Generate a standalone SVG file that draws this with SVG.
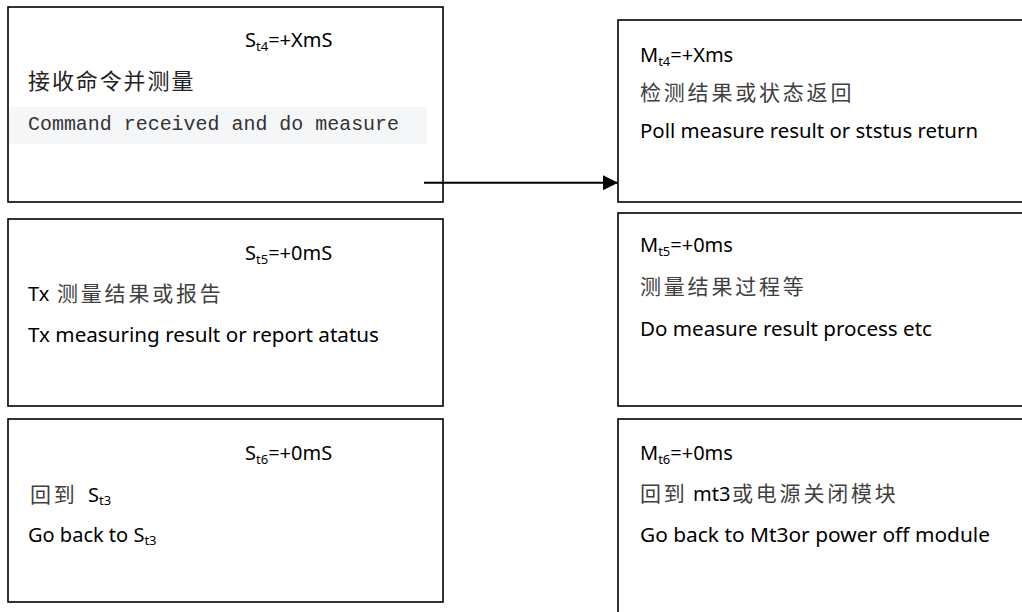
<svg xmlns="http://www.w3.org/2000/svg" width="1022" height="612" viewBox="0 0 1022 612">
<style>
.box{fill:#fff;stroke:#000;stroke-width:1.6}
.en{font-family:"Noto Sans","Open Sans",sans-serif;font-size:20px;fill:#000}
.sub{font-size:13px}
.zh{font-family:"Noto Sans CJK SC","Noto Sans",sans-serif;font-size:21px;fill:#404040;letter-spacing:2.8px}
.zh1{font-family:"Noto Sans CJK SC",sans-serif;font-size:22px;fill:#222;letter-spacing:1.9px}
.mono{font-family:"Liberation Mono",monospace;font-size:20px;fill:#333}
.conn{stroke:#000;stroke-width:2;fill:none}
</style>
<defs>
<marker id="ah" markerUnits="userSpaceOnUse" markerWidth="16" markerHeight="16" refX="15" refY="7.5" orient="auto">
<path d="M0,0 L15,7.5 L0,15 Z" fill="#000"/>
</marker>
</defs>
<rect width="1022" height="612" fill="#fff"/>

<g id="node-st4">
<rect class="box" x="8" y="7" width="435" height="195"/>
<text class="en" x="245" y="47">S<tspan class="sub" dy="4">t4</tspan><tspan dy="-4">=+XmS</tspan></text>
<text class="zh1" x="28" y="89">接收命令并测量</text>
<rect x="9" y="107" width="418" height="37" fill="#f5f6f8"/>
<text class="mono" x="28" y="130" textLength="371" lengthAdjust="spacingAndGlyphs">Command received and do measure</text>
</g>

<g id="node-st5">
<rect class="box" x="8" y="219" width="435" height="187"/>
<text class="en" x="245" y="260">S<tspan class="sub" dy="4">t5</tspan><tspan dy="-4">=+0mS</tspan></text>
<text class="en" x="28" y="301">Tx</text>
<text class="zh" x="57" y="301">测量结果或报告</text>
<text class="en" x="28" y="342" textLength="351" lengthAdjust="spacingAndGlyphs">Tx measuring result or report atatus</text>
</g>

<g id="node-st6">
<rect class="box" x="8" y="419" width="435" height="183"/>
<text class="en" x="245" y="460">S<tspan class="sub" dy="4">t6</tspan><tspan dy="-4">=+0mS</tspan></text>
<text class="zh" x="30" y="502">回到</text>
<text class="en" x="88" y="502">S<tspan class="sub" dy="3">t3</tspan></text>
<text class="en" x="28" y="542">Go back to S<tspan class="sub" dy="3">t3</tspan></text>
</g>

<g id="node-mt4">
<rect class="box" x="618" y="20" width="420" height="182"/>
<text class="en" x="640" y="62">M<tspan class="sub" dy="4">t4</tspan><tspan dy="-4">=+Xms</tspan></text>
<text class="zh" x="640" y="100">检测结果或状态返回</text>
<text class="en" x="640" y="138" textLength="338" lengthAdjust="spacingAndGlyphs">Poll measure result or ststus return</text>
</g>

<g id="node-mt5">
<rect class="box" x="618" y="213" width="420" height="193"/>
<text class="en" x="640" y="252">M<tspan class="sub" dy="4">t5</tspan><tspan dy="-4">=+0ms</tspan></text>
<text class="zh" x="640" y="294">测量结果过程等</text>
<text class="en" x="640" y="336" textLength="292" lengthAdjust="spacingAndGlyphs">Do measure result process etc</text>
</g>

<g id="node-mt6">
<rect class="box" x="618" y="419" width="420" height="210"/>
<text class="en" x="640" y="460">M<tspan class="sub" dy="4">t6</tspan><tspan dy="-4">=+0ms</tspan></text>
<text class="zh" x="640" y="501">回到</text>
<text class="en" x="693" y="501">mt3</text>
<text class="zh" x="732" y="501">或电源关闭模块</text>
<text class="en" x="640" y="542" textLength="350" lengthAdjust="spacingAndGlyphs">Go back to Mt3or power off module</text>
</g>

<g id="connectors">
<path class="conn" d="M424,182.7 L618,182.7" marker-end="url(#ah)"/>
</g>
</svg>
